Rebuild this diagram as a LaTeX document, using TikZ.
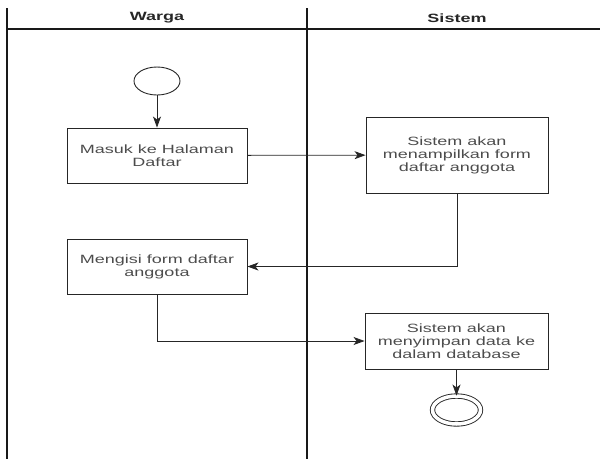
\documentclass[tikz,border=0pt]{standalone}
\usepackage{fontspec}
\setmainfont[FakeStretch=1.5]{Liberation Sans}
\usetikzlibrary{shapes.geometric,arrows.meta,positioning}

\begin{document}
\begin{tikzpicture}[x=1pt,y=-1pt]
      \tikzstyle{lane}=[line width=1.1pt, draw=black!90]
      \tikzstyle{lanehead}=[font=\fontsize{12}{13}\selectfont\bfseries, text=black!85]
      \tikzstyle{activity}=[rectangle, draw=black!85, line width=0.9pt, minimum width=180pt, align=center, font=\fontsize{12}{13}\selectfont, text=black!70]
      \tikzstyle{startnode}=[ellipse, draw=black!85, line width=0.9pt, minimum width=46pt, minimum height=28pt, inner sep=0pt]
      \tikzstyle{endnode}=[ellipse, draw=black!85, line width=0.9pt, minimum width=48pt, minimum height=28pt, inner sep=0pt, double, double distance=3.5pt]
      \tikzstyle{connect}=[-{Stealth[length=11pt,width=8pt,inset=3pt]}, line width=0.8pt, draw=black!85]

      \useasboundingbox (0,0) rectangle (600,459);

      % swimlanes
      \draw[lane] (7,8) -- (7,459);
      \draw[lane] (307,8) -- (307,459);
      \draw[lane] (7,29) -- (600,29);
      \node[lanehead] (warga) at (157,18) {Warga};
      \node[lanehead] (sistem) at (457,18) {Sistem};

      \node[startnode] (start) at (157,81) {};
      \node[activity, minimum height=55pt] (masuk) at (157,155.5) {Masuk ke Halaman\\Daftar};
      \node[activity, minimum width=182pt, minimum height=76pt] (tampil) at (457,155) {Sistem akan\\menampilkan form\\daftar anggota};
      \node[activity, minimum height=55pt] (isi) at (157,266.5) {Mengisi form daftar\\anggota};
      \node[activity, minimum width=183pt, minimum height=56pt] (simpan) at (456.5,341) {Sistem akan\\menyimpan data ke\\dalam database};
      \node[endnode] (end) at (456.5,410) {};

      \path (start) edge [connect] (masuk)
            (masuk) edge [connect] (tampil)
            (simpan) edge [connect] (end);

      \draw[connect] (tampil.south) |- (isi.east);
      \draw[connect] (isi.south) |- (simpan.west);
    \end{tikzpicture}
\end{document}
